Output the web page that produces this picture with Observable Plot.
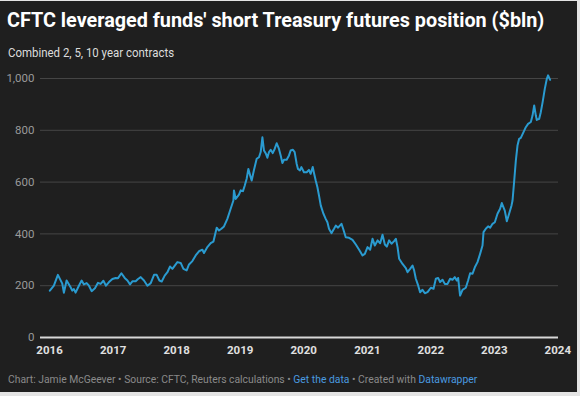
<!DOCTYPE html>
<html><head><meta charset="utf-8">
<script src="https://cdn.jsdelivr.net/npm/d3@7"></script>
<script src="https://cdn.jsdelivr.net/npm/@observablehq/plot@0.6"></script>
<style>
html,body{margin:0;padding:0;background:#e4e4e4;width:580px;height:396px;overflow:hidden;}
#frame{position:absolute;left:0;top:1px;width:577px;height:391px;background:#1f1f1f;font-family:Roboto,sans-serif;overflow:hidden;}
#title{position:absolute;left:7px;top:10px;font-size:19.8px;font-weight:700;color:#fff;white-space:nowrap;line-height:1;}
#subtitle{position:absolute;left:8px;top:45px;font-size:13px;color:#dcdcdc;white-space:nowrap;line-height:1;transform:scaleX(0.88);transform-origin:left top;}
#chart{position:absolute;left:0;top:61px;}
#footer{position:absolute;left:8px;top:374px;font-size:10.5px;color:#8a8a8a;white-space:nowrap;line-height:1;transform:scaleX(0.985);transform-origin:left top;}
#footer span.l{color:#4a9be0;}
</style></head>
<body>
<div id="frame">
  <div id="title">CFTC leveraged funds' short Treasury futures position ($bln)</div>
  <div id="subtitle">Combined 2, 5, 10 year contracts</div>
  <div id="chart"></div>
  <div id="footer">Chart: Jamie McGeever • Source: CFTC, Reuters calculations • <span class="l">Get the data</span> • Created with <span class="l">Datawrapper</span></div>
</div>
<script>
// decimal-year dates
const years = [
2016.005,2016.068,2016.131,2016.200,2016.225,2016.268,2016.331,2016.357,2016.383,2016.409,
2016.461,2016.504,2016.540,2016.583,2016.619,2016.661,2016.713,2016.761,2016.803,2016.846,
2016.887,2016.934,2016.987,2017.039,2017.076,2017.129,2017.181,2017.224,2017.265,2017.302,
2017.354,2017.391,2017.433,2017.485,2017.539,2017.591,2017.643,2017.685,2017.728,2017.764,
2017.811,2017.854,2017.894,2017.932,2018.011,2018.063,2018.106,2018.157,2018.194,2018.247,
2018.299,2018.351,2018.405,2018.430,2018.483,2018.535,2018.578,2018.630,2018.666,2018.704,
2018.745,2018.798,2018.850,2018.893,2018.902,2018.929,2018.981,2019.008,2019.044,2019.071,
2019.102,2019.129,2019.165,2019.181,2019.217,2019.260,2019.296,2019.323,2019.350,2019.375,
2019.406,2019.428,2019.454,2019.480,2019.512,2019.543,2019.575,2019.611,2019.638,2019.665,
2019.690,2019.732,2019.769,2019.795,2019.831,2019.858,2019.890,2019.910,2019.942,2019.964,
2020.005,2020.047,2020.083,2020.110,2020.142,2020.162,2020.189,2020.216,2020.241,2020.268,
2020.310,2020.346,2020.373,2020.398,2020.436,2020.477,2020.504,2020.540,2020.594,2020.625,
2020.661,2020.713,2020.767,2020.819,2020.871,2020.924,2020.961,2021.003,2021.044,2021.082,
2021.118,2021.161,2021.202,2021.239,2021.276,2021.307,2021.343,2021.381,2021.422,2021.449,
2021.476,2021.501,2021.554,2021.606,2021.633,2021.674,2021.712,2021.737,2021.764,2021.800,
2021.831,2021.869,2021.906,2021.948,2022.000,2022.043,2022.079,2022.115,2022.146,2022.184,
2022.220,2022.263,2022.304,2022.342,2022.378,2022.409,2022.430,2022.461,2022.499,2022.551,
2022.587,2022.619,2022.657,2022.693,2022.735,2022.776,2022.814,2022.830,2022.866,2022.902,
2022.934,2022.972,2023.008,2023.050,2023.091,2023.118,2023.165,2023.197,2023.233,2023.271,
2023.287,2023.315,2023.339,2023.365,2023.391,2023.417,2023.460,2023.496,2023.532,2023.575,
2023.602,2023.628,2023.654,2023.669,2023.706,2023.732,2023.761,2023.795,2023.827,2023.847,
2023.879
];
// short position, $bln
const values = [
181,200,242,208,173,220,194,181,187,173,
200,220,205,210,200,179,190,211,207,219,
200,214,226,230,229,248,230,220,205,217,
217,226,233,220,200,210,242,242,220,216,
239,252,274,265,291,288,265,259,282,295,
317,333,339,326,349,364,370,424,413,420,
429,458,497,529,568,535,552,568,565,586,
613,651,619,606,647,690,696,716,773,722,
709,694,716,725,712,728,750,728,703,674,
686,686,703,722,725,716,670,651,645,658,
638,638,647,632,658,635,606,580,548,510,
478,458,445,420,403,420,432,424,439,416,
387,385,377,359,339,317,323,349,339,381,
355,375,364,397,359,351,375,362,372,381,
349,304,284,268,252,265,278,259,227,201,
175,184,171,175,192,188,227,230,214,223,
207,207,227,223,233,220,230,162,184,192,
220,248,246,271,291,323,355,407,420,429,
424,439,445,478,497,519,490,449,478,510,
529,610,683,741,767,771,793,812,825,832,
857,896,857,840,844,870,909,960,999,1012,
995
];
const yTicks = [0, 200, 400, 600, 800, 1000];
const xTickYears = [2016, 2017, 2018, 2019, 2020, 2021, 2022, 2023, 2024];

function toDate(y) {
  const yr = Math.floor(y);
  const a = Date.UTC(yr, 0, 1), b = Date.UTC(yr + 1, 0, 1);
  return new Date(a + (y - yr) * (b - a));
}
const data = years.map((y, i) => ({date: toDate(y), value: values[i]}));
const xTicks = xTickYears.map(y => new Date(Date.UTC(y, 0, 1)));

const chart = Plot.plot({
  width: 577, height: 300,
  marginLeft: 40, marginRight: 19, marginTop: 16, marginBottom: 25,
  style: {background: "transparent", fontFamily: "Roboto, sans-serif", overflow: "visible"},
  x: {type: "utc", domain: [new Date(Date.UTC(2015, 10, 10)), new Date(Date.UTC(2024, 0, 5))]},
  y: {domain: [0, 1000]},
  marks: [
    Plot.gridY(yTicks.filter(d => d > 0), {stroke: "#454545", strokeOpacity: 1, strokeWidth: 1}),
    Plot.ruleY([0], {stroke: "#d8d8d8", strokeWidth: 2}),
    Plot.axisY(yTicks, {tickSize: 0, tickPadding: 6, tickFormat: d3.format(","), fill: "#9a9a9a", fontSize: 11.5, label: null}),
    Plot.axisX(xTicks, {tickSize: 0, tickPadding: 8, tickFormat: d3.utcFormat("%Y"), fill: "#e0e0e0", fontWeight: "bold", fontSize: 11.5, label: null}),
    Plot.lineY(data, {x: "date", y: "value", stroke: "#2a9bd0", strokeWidth: 2, strokeLinejoin: "round"})
  ]
});
document.getElementById("chart").appendChild(chart);
</script>
</body></html>
